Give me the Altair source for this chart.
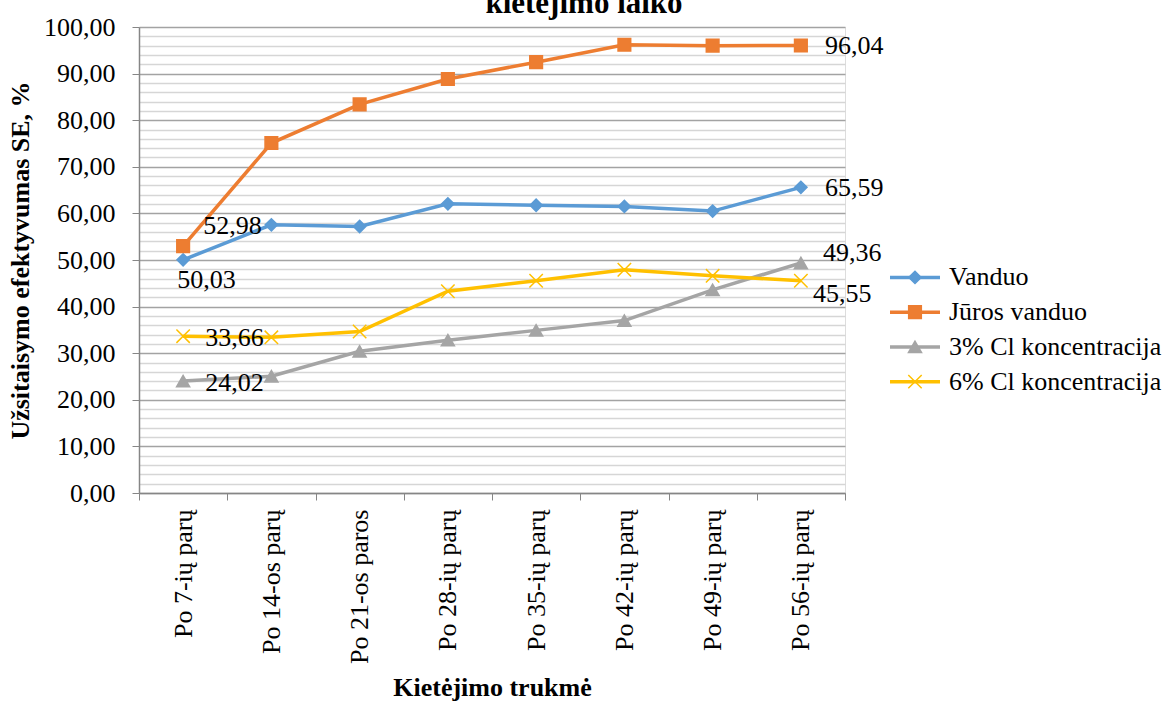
import altair as alt
import pandas as pd

# Curing periods (x categories)
periods = ["Po 7-ių parų", "Po 14-os parų", "Po 21-os paros", "Po 28-ių parų",
           "Po 35-ių parų", "Po 42-ių parų", "Po 49-ių parų", "Po 56-ių parų"]

series = ["Vanduo", "Jūros vanduo", "3% Cl koncentracija", "6% Cl koncentracija"]

vanduo = [50.03, 57.55, 57.20, 62.05, 61.75, 61.50, 60.50, 65.59]
juros_vanduo = [52.98, 75.10, 83.40, 88.85, 92.45, 96.20, 96.00, 96.04]
cl_3 = [24.02, 25.05, 30.40, 32.80, 34.90, 37.00, 43.60, 49.36]
cl_6 = [33.66, 33.40, 34.65, 43.30, 45.55, 47.90, 46.60, 45.55]

colors = ["#5B9BD5", "#ED7D31", "#A5A5A5", "#FFC000"]
x_path = "M-1,-1L1,1M-1,1L1,-1"
shapes = ["diamond", "square", "triangle-up", x_path]
sizes = [150, 180, 180, 160]

rows = []
for name, vals in zip(series, [vanduo, juros_vanduo, cl_3, cl_6]):
    for i, (p, v) in enumerate(zip(periods, vals)):
        rows.append({"series": name, "period": p, "idx": i, "value": v})
df = pd.DataFrame(rows)

FONT = "Liberation Serif"
FS = 26
W, H = 706, 466

color_scale = alt.Scale(domain=series, range=colors)
shape_scale = alt.Scale(domain=series, range=shapes)
size_scale = alt.Scale(domain=series, range=sizes)

x_enc = alt.X(
    "period:N", sort=periods, bandPosition=0.5,
    scale=alt.Scale(type="band", domain=periods, paddingInner=0, paddingOuter=0),
    axis=alt.Axis(
        title="Kietėjimo trukmė", titleFont=FONT, titleFontSize=FS, titleFontWeight="bold",
        titleColor="black", titlePadding=11,
        labelAngle=-90, labelAlign="right", labelBaseline="middle",
        labelFont=FONT, labelFontSize=FS, labelColor="black", labelPadding=9,
        tickBand="extent", tickSize=7, tickColor="#868686", domainColor="#868686",
        domainWidth=1.5, grid=False,
    ),
)
y_major = alt.Y(
    "value:Q",
    scale=alt.Scale(domain=[0, 100], nice=False, zero=True),
    axis=alt.Axis(
        title="Užsitaisymo efektyvumas SE, %", titleFont=FONT, titleFontSize=FS,
        titleFontWeight="bold", titleColor="black", titlePadding=10, orient="left",
        values=list(range(0, 101, 10)),
        labelExpr="replace(format(datum.value, '.2f'), '.', ',')",
        labelFont=FONT, labelFontSize=FS, labelColor="black", labelPadding=17,
        tickSize=7, tickColor="#868686", domainColor="#868686", domainWidth=1.5,
        grid=True, gridColor="#a3a3a3", gridWidth=1.5,
    ),
)
y_minor = alt.Y(
    "value:Q",
    scale=alt.Scale(domain=[0, 100], nice=False, zero=True),
    axis=alt.Axis(
        title=None, orient="left", values=[v for v in range(0, 101, 2) if v % 10],
        labels=False, ticks=False, domain=False,
        grid=True, gridColor="#d6d6d6", gridWidth=1.5,
    ),
)

base = alt.Chart(df)

minor_grid = base.mark_line(opacity=0).encode(x=x_enc, y=y_minor)

lines = base.mark_line(strokeWidth=3.5).encode(
    x=x_enc, y=y_major,
    color=alt.Color("series:N", scale=color_scale, legend=None),
    detail="series:N",
)

points = base.mark_point(filled=True, opacity=1, strokeWidth=1.5).encode(
    x=x_enc, y=alt.Y("value:Q", axis=None),
    color=alt.Color("series:N", scale=color_scale, legend=None),
    stroke=alt.Stroke("series:N", scale=color_scale, legend=None),
    shape=alt.Shape("series:N", scale=shape_scale, legend=None),
    size=alt.Size("series:N", scale=size_scale, legend=None),
)

# Value labels at the first and last curing periods: (series, index, dx, dy)
label_specs = [
    ("Jūros vanduo", 0, 20, -20),
    ("Vanduo", 0, -6, 20),
    ("6% Cl koncentracija", 0, 22, 2),
    ("3% Cl koncentracija", 0, 22, 2),
    ("Jūros vanduo", 7, 24, 1),
    ("Vanduo", 7, 24, 1),
    ("3% Cl koncentracija", 7, 22, -10),
    ("6% Cl koncentracija", 7, 12, 13),
]
label_layers = []
for s, i, dx, dy in label_specs:
    label_layers.append(
        base.transform_filter(
            (alt.datum.series == s) & (alt.datum.idx == i)
        ).transform_calculate(
            label="replace(format(datum.value, '.2f'), '.', ',')"
        ).mark_text(
            font=FONT, fontSize=FS, color="black", align="left", baseline="middle",
            dx=dx, dy=dy,
        ).encode(x=x_enc, y=alt.Y("value:Q", axis=None), text="label:N")
    )

# Legend drawn beside the plot area
legend_df = pd.DataFrame({"series": series})
leg_y = alt.Y("series:N", sort=series,
              scale=alt.Scale(domain=series, range=[233, 372]), axis=None)
legend_base = alt.Chart(legend_df)
leg_rule = legend_base.mark_rule(strokeWidth=3.5).encode(
    x=alt.value(W + 45), x2=alt.value(W + 95), y=leg_y,
    color=alt.Color("series:N", scale=color_scale, legend=None),
)
leg_pts = legend_base.mark_point(filled=True, opacity=1, strokeWidth=1.5).encode(
    x=alt.value(W + 70), y=leg_y,
    color=alt.Color("series:N", scale=color_scale, legend=None),
    stroke=alt.Stroke("series:N", scale=color_scale, legend=None),
    shape=alt.Shape("series:N", scale=shape_scale, legend=None),
    size=alt.Size("series:N", scale=size_scale, legend=None),
)
leg_text = legend_base.mark_text(
    font=FONT, fontSize=FS, color="black", align="left", baseline="middle"
).encode(x=alt.value(W + 104), y=leg_y, text="series:N")

title = alt.Chart(pd.DataFrame({"t": ["kietėjimo laiko"]})).mark_text(
    font=FONT, fontSize=31, fontWeight="bold", color="black",
    align="center", baseline="alphabetic",
).encode(x=alt.value(W / 2 + 92), y=alt.value(-14), text="t:N")

plot = alt.layer(minor_grid, lines, points, *label_layers).resolve_axis(y="independent")
legend = alt.layer(leg_rule, leg_pts, leg_text)

chart = alt.layer(plot, legend, title).resolve_scale(y="independent").properties(
    width=W, height=H,
    padding={"left": 139, "top": 27, "right": 1169 - 139 - W, "bottom": 705 - 27 - H},
    autosize=alt.AutoSizeParams(type="none"),
).configure_view(stroke=None).configure(background="white")

chart.save("out.html", embed_options={"renderer": "svg", "actions": False})
